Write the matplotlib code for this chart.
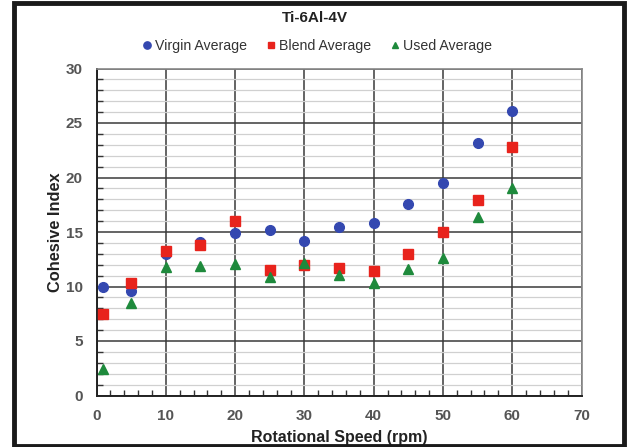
import matplotlib
matplotlib.use("Agg")
import matplotlib.pyplot as plt
from matplotlib.patches import Rectangle
from matplotlib.ticker import MultipleLocator

plt.rcParams['font.family'] = ['Liberation Sans', 'DejaVu Sans']

# rotational speed (rpm)
speed = [1, 5, 10, 15, 20, 25, 30, 35, 40, 45, 50, 55, 60]

virgin = [10.0, 9.6, 13.0, 14.1, 14.9, 15.2, 14.2, 15.5, 15.8, 17.6, 19.5, 23.2, 26.1]
blend = [7.5, 10.3, 13.3, 13.8, 16.0, 11.5, 12.0, 11.7, 11.4, 13.0, 15.0, 17.9, 22.8]
used = [2.4, 8.5, 11.8, 11.9, 12.1, 10.9, 12.2, 11.1, 10.3, 11.6, 12.6, 16.4, 19.0]

fig = plt.figure(figsize=(6.27, 4.47), dpi=100)
ax = fig.add_axes([96.5 / 627, 1 - 395.5 / 447, 485 / 627, 327 / 447])

# minor/major grid
ax.set_xlim(0, 70)
ax.set_ylim(0, 30)
ax.xaxis.set_major_locator(MultipleLocator(10))
ax.xaxis.set_minor_locator(MultipleLocator(2))
ax.yaxis.set_major_locator(MultipleLocator(5))
ax.yaxis.set_minor_locator(MultipleLocator(1))
ax.grid(which='minor', axis='y', color='#d0d0d0', lw=0.9)
ax.grid(which='major', axis='both', color='#3a3a3a', lw=1.1)
ax.set_axisbelow(True)

ax.tick_params(which='both', direction='in', colors='#333333', labelcolor='#555555')
ax.tick_params(which='major', length=0, labelsize=11)
ax.tick_params(axis='y', which='major', pad=10)
ax.tick_params(axis='x', which='major', pad=10)
ax.tick_params(which='minor', length=4, width=1)
for lab in ax.get_xticklabels() + ax.get_yticklabels():
    lab.set_fontweight('bold')

for side in ['left', 'bottom']:
    ax.spines[side].set_color('#222222')
    ax.spines[side].set_linewidth(1.4)
for side in ['right', 'top']:
    ax.spines[side].set_color('#888888')
    ax.spines[side].set_linewidth(1.2)

ax.plot(speed, virgin, 'o', color='#3448b0', ms=7, mec='#3448b0', label='Virgin Average', zorder=3)
ax.plot(speed, blend, 's', color='#e8231c', ms=6.5, mec='#e8231c', label='Blend Average', zorder=3)
ax.plot(speed, used, '^', color='#1e8a3c', ms=6.5, mec='#1e8a3c', label='Used Average', zorder=3)

ax.set_xlabel('Rotational Speed (rpm)', fontsize=11.5, fontweight='bold', color='#222222', labelpad=5)
ax.set_ylabel('Cohesive Index', fontsize=11.8, fontweight='bold', color='#222222', labelpad=2)

fig.text(315 / 627, 1 - 18 / 447, 'Ti-6Al-4V', ha='center', va='center',
         fontsize=11, fontweight='bold', color='#222222')
fig.legend(loc='center', bbox_to_anchor=(316 / 627, 1 - 46 / 447), ncol=3, frameon=False,
           fontsize=10.2, handletextpad=0.05, columnspacing=1.2, markerscale=0.75,
           handlelength=1.0, labelcolor='#333333')

# black frame around the figure
fig.patches.append(Rectangle((14 / 627, 1 - 446 / 447), 610 / 627, 443 / 447,
                             transform=fig.transFigure, fill=False, ec='#1a1a1a', lw=3.5))

fig.savefig('out.png', dpi=100)
